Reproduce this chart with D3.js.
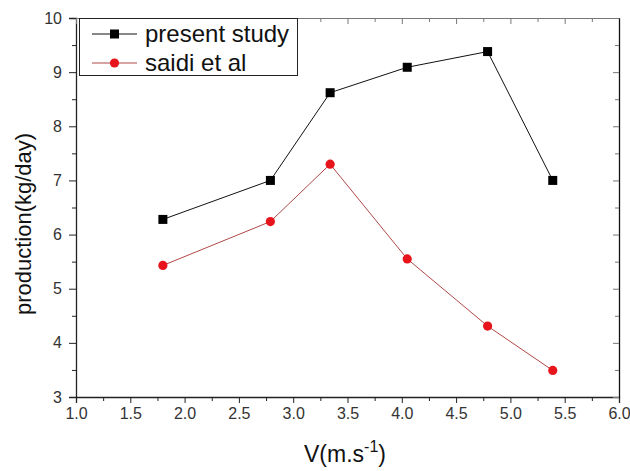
<!DOCTYPE html>
<html>
<head>
<meta charset="utf-8">
<script src="https://cdn.jsdelivr.net/npm/d3@7"></script>
<style>
  html, body { margin: 0; padding: 0; background: #fff; }
  svg { display: block; font-family: "Liberation Sans", Arial, sans-serif; }
</style>
</head>
<body>
<svg id="chart" width="630" height="471"></svg>
<script>
// Wind speed (m/s) and daily production (kg/day) for both studies
const speeds = [1.8, 2.79, 3.34, 4.05, 4.79, 5.39];
const presentStudy = [6.28, 7.0, 8.62, 9.09, 9.38, 7.0];
const saidiEtAl = [5.43, 6.24, 7.30, 5.55, 4.31, 3.49];
const xTicks = [1.0, 1.5, 2.0, 2.5, 3.0, 3.5, 4.0, 4.5, 5.0, 5.5, 6.0];
const yTicks = [3, 4, 5, 6, 7, 8, 9, 10];
const seriesNames = ["present study", "saidi et al"];

const svg = d3.select("#chart");
const plotLeft = 76, plotRight = 619, plotTop = 18, plotBottom = 397;

const x = d3.scaleLinear().domain([1, 6]).range([plotLeft, plotRight]);
const y = d3.scaleLinear().domain([3, 10]).range([plotBottom, plotTop]);

const axisColor = "#222";
const frameColor = "#777";
const labelColor = "#333";

// Minor tick positions halfway between the majors
const xMinor = d3.range(1.25, 6, 0.5);
const yMinor = d3.range(3.5, 10, 1);

// Bottom axis
const gx = svg.append("g").attr("transform", `translate(0,${plotBottom})`)
  .call(d3.axisBottom(x).tickValues(xTicks).tickFormat(d3.format(".1f")).tickSize(6).tickPadding(5));
gx.append("g").call(d3.axisBottom(x).tickValues(xMinor).tickFormat("").tickSize(4))
  .select(".domain").remove();

// Left axis
const gy = svg.append("g").attr("transform", `translate(${plotLeft},0)`)
  .call(d3.axisLeft(y).tickValues(yTicks).tickFormat(d3.format("d")).tickSize(7).tickPadding(7));
gy.append("g").call(d3.axisLeft(y).tickValues(yMinor).tickFormat("").tickSize(4))
  .select(".domain").remove();

[gx, gy].forEach(g => {
  g.selectAll(".domain").attr("stroke", axisColor).attr("stroke-width", 1.3);
  g.selectAll(".tick line").attr("stroke", axisColor);
  g.selectAll(".tick text").attr("fill", labelColor).attr("font-size", 16)
    .attr("font-family", "Liberation Sans, Arial, sans-serif");
});

// Top and right frame with inward ticks
const gTop = svg.append("g").attr("transform", `translate(0,${plotTop})`)
  .call(d3.axisBottom(x).tickValues(xTicks).tickFormat("").tickSize(6).tickSizeOuter(0));
gTop.append("g").call(d3.axisBottom(x).tickValues(xMinor).tickFormat("").tickSize(4))
  .select(".domain").remove();
const gRight = svg.append("g").attr("transform", `translate(${plotRight},0)`)
  .call(d3.axisLeft(y).tickValues(yTicks).tickFormat("").tickSize(6).tickSizeOuter(0));
gRight.append("g").call(d3.axisLeft(y).tickValues(yMinor).tickFormat("").tickSize(4))
  .select(".domain").remove();
gTop.selectAll(".domain, .tick line").attr("stroke", frameColor);
gRight.selectAll(".domain").attr("stroke", "#111").attr("stroke-width", 1.3);
gRight.selectAll(".tick line").attr("stroke", frameColor);

// Series
const series = [
  { name: seriesNames[0], values: presentStudy, line: "#111", fill: "#000", shape: "square" },
  { name: seriesNames[1], values: saidiEtAl, line: "#b04848", fill: "#e8141c", shape: "circle" }
];

const line = d3.line().x(d => x(d[0])).y(d => y(d[1]));

function drawMarker(g, shape, fill, cx, cy) {
  if (shape === "square") {
    g.append("rect").attr("x", cx - 4.5).attr("y", cy - 4.5)
      .attr("width", 9).attr("height", 9).attr("fill", fill);
  } else {
    g.append("circle").attr("cx", cx).attr("cy", cy).attr("r", 4.6).attr("fill", fill);
  }
}

series.forEach(s => {
  const pts = speeds.map((v, i) => [v, s.values[i]]);
  svg.append("path").datum(pts).attr("d", line)
    .attr("fill", "none").attr("stroke", s.line).attr("stroke-width", 1);
  const g = svg.append("g");
  pts.forEach(p => drawMarker(g, s.shape, s.fill, x(p[0]), y(p[1])));
});

// Legend
const legend = svg.append("g");
legend.append("rect").attr("x", 79.5).attr("y", 18.5).attr("width", 218).attr("height", 57)
  .attr("fill", "#fff").attr("stroke", "#222").attr("stroke-width", 1);
series.forEach((s, i) => {
  const cy = 34 + i * 29;
  legend.append("line").attr("x1", 92).attr("x2", 137).attr("y1", cy).attr("y2", cy)
    .attr("stroke", s.line).attr("stroke-width", 1.1);
  drawMarker(legend, s.shape, s.fill, 114.5, cy);
  legend.append("text").attr("x", 145).attr("y", cy + 8)
    .attr("font-size", 24).attr("fill", "#111").text(s.name);
});

// Axis titles
const xt = svg.append("text").attr("x", 345).attr("y", 462)
  .attr("text-anchor", "middle").attr("font-size", 23).attr("fill", "#111");
xt.append("tspan").text("V(m.s");
xt.append("tspan").attr("font-size", 16).attr("dy", -10).text("-1");
xt.append("tspan").attr("dy", 10).text(")");

svg.append("text")
  .attr("transform", `translate(31,${224}) rotate(-90)`)
  .attr("text-anchor", "middle").attr("font-size", 22).attr("fill", "#111")
  .text("production(kg/day)");
</script>
</body>
</html>
